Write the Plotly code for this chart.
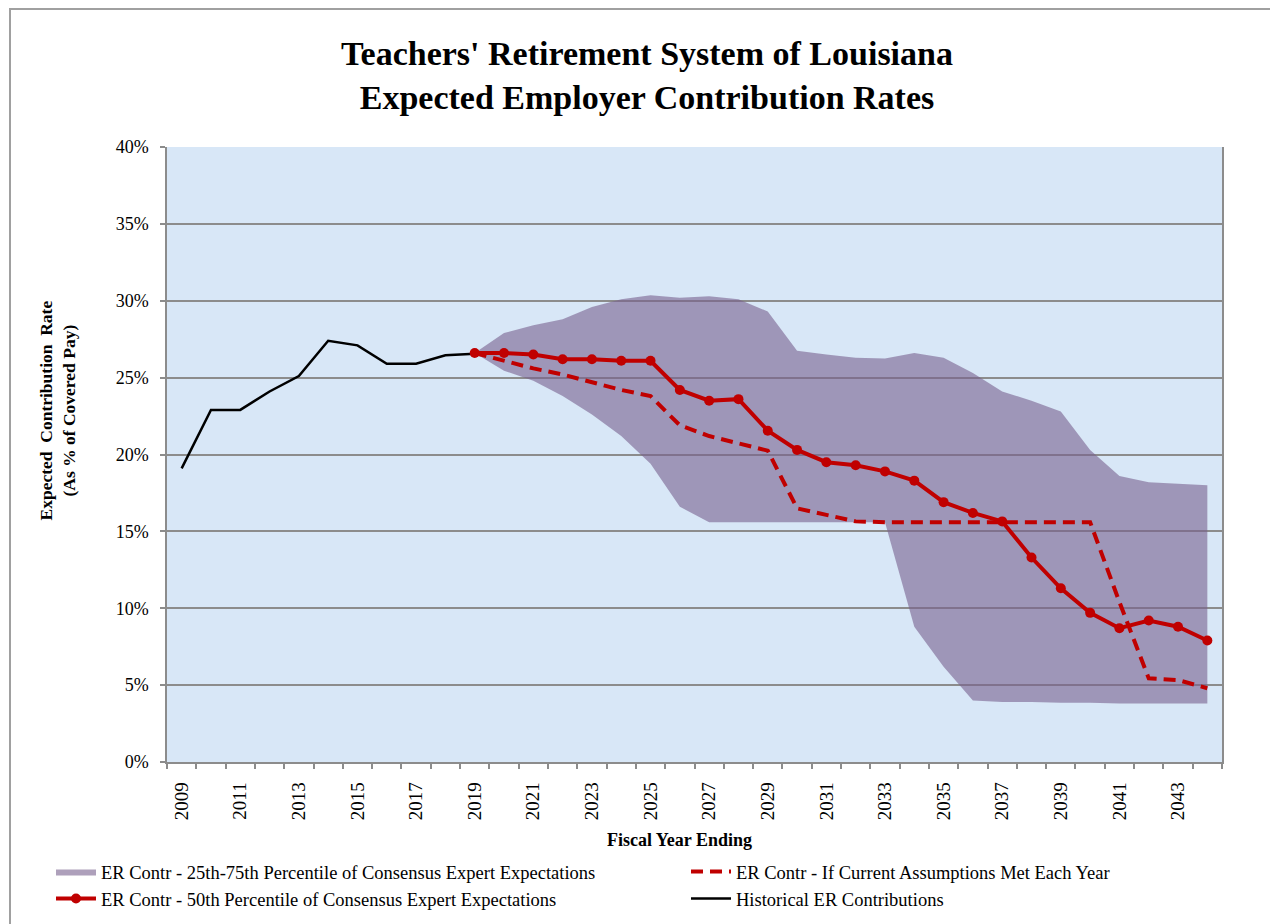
import plotly.graph_objects as go

years = list(range(2009, 2045))

hist_years = list(range(2009, 2020))
historical = [19.1, 22.9, 22.9, 24.1, 25.1, 27.4, 27.1, 25.9, 25.9, 26.45, 26.56]

proj_years = list(range(2019, 2045))
median = [26.6, 26.6, 26.5, 26.2, 26.2, 26.1, 26.1, 24.2, 23.5, 23.6, 21.55, 20.3,
          19.5, 19.3, 18.9, 18.3, 16.9, 16.2, 15.65, 13.3, 11.3, 9.7, 8.7, 9.2, 8.8, 7.9]
current_assump = [26.6, 26.1, 25.6, 25.2, 24.7, 24.2, 23.8, 21.9, 21.2, 20.7, 20.25, 16.5,
                  16.06, 15.65, 15.6, 15.6, 15.6, 15.6, 15.6, 15.6, 15.6, 15.6, 10.4, 5.44, 5.33, 4.8]
upper_75 = [26.6, 27.9, 28.4, 28.8, 29.6, 30.1, 30.35, 30.2, 30.3, 30.1, 29.3, 26.75,
            26.5, 26.3, 26.25, 26.6, 26.3, 25.3, 24.1, 23.5, 22.8, 20.3, 18.6, 18.2, 18.1, 18.0]
lower_25 = [26.6, 25.45, 24.8, 23.8, 22.6, 21.2, 19.4, 16.6, 15.6, 15.6, 15.6, 15.6,
            15.6, 15.6, 15.6, 8.8, 6.2, 4.0, 3.9, 3.9, 3.85, 3.85, 3.8, 3.8, 3.8, 3.8]

y_ticks = [0, 5, 10, 15, 20, 25, 30, 35, 40]
y_tick_labels = [f"{v}%" for v in y_ticks]
x_tick_years = list(range(2009, 2045, 2))

FONT = "Liberation Serif"
RED = "#c00000"
W, H = 1270, 916  # page body adds an 8px offset

fig = go.Figure()

fig.add_trace(go.Scatter(x=proj_years, y=lower_25, mode="lines", line=dict(width=0),
                         showlegend=False, hoverinfo="skip"))
fig.add_trace(go.Scatter(x=proj_years, y=upper_75, mode="lines", line=dict(width=0),
                         fill="tonexty", fillcolor="rgba(120,96,142,0.6)",
                         name="ER Contr - 25th-75th Percentile of Consensus Expert Expectations",
                         legend="legend", legendrank=1))
fig.add_trace(go.Scatter(x=proj_years, y=current_assump, mode="lines",
                         line=dict(color=RED, width=4, dash="12px,7px"),
                         name="ER Contr - If Current Assumptions Met Each Year",
                         legend="legend2", legendrank=1))
fig.add_trace(go.Scatter(x=hist_years, y=historical, mode="lines",
                         line=dict(color="black", width=2.5),
                         name="Historical ER Contributions", legend="legend2", legendrank=2))
fig.add_trace(go.Scatter(x=proj_years, y=median, mode="lines+markers",
                         line=dict(color=RED, width=4), marker=dict(color=RED, size=10),
                         name="ER Contr - 50th Percentile of Consensus Expert Expectations",
                         legend="legend", legendrank=2))

legend_common = dict(orientation="h", xanchor="left", yanchor="top",
                     xref="container", yref="container", traceorder="normal",
                     entrywidth=520, entrywidthmode="pixels",
                     font=dict(family=FONT, size=18.5), bgcolor="rgba(0,0,0,0)",
                     itemwidth=40, tracegroupgap=0)

fig.update_layout(
    width=W, height=H,
    margin=dict(l=159, r=56, t=139, b=162),
    paper_bgcolor="white",
    plot_bgcolor="#d8e7f7",
    font=dict(family=FONT, size=17, color="black"),
    title=dict(text="<b>Teachers' Retirement System of Louisiana<br>Expected Employer Contribution Rates</b>",
               x=(647 - 8) / W, xanchor="center", y=1 - 57 / H, yanchor="middle", yref="container",
               font=dict(family=FONT, size=34, color="black")),
    xaxis=dict(range=[2008.5, 2044.5], tickmode="array", tickvals=x_tick_years,
               ticktext=[str(y) for y in x_tick_years], tickangle=-90,
               ticks="", showgrid=False, zeroline=False, ticklabelstandoff=11,
               showline=True, linecolor="#8c8c8c", linewidth=1.5,
               tickfont=dict(family=FONT, size=19),
               minor=dict(tickmode="linear", tick0=2008.5, dtick=1, ticks="outside",
                          ticklen=5, tickcolor="#8c8c8c", tickwidth=1.5, showgrid=False)),
    yaxis=dict(range=[0, 40], tickmode="array", tickvals=y_ticks, ticktext=y_tick_labels,
               ticks="outside", ticklen=5, tickcolor="#8c8c8c", tickwidth=1.5,
               ticklabelstandoff=8,
               showgrid=True, gridcolor="#8c8c8c", gridwidth=1.5, zeroline=False,
               showline=True, linecolor="#8c8c8c", linewidth=1.5, mirror=True,
               tickfont=dict(family=FONT, size=18)),
    legend=dict(x=43 / W, y=1 - 845 / H, **legend_common),
    legend2=dict(x=678 / W, y=1 - 845 / H, **legend_common),
    annotations=[
        dict(text="<b>Fiscal Year Ending</b>", xref="paper", yref="paper",
             x=0.486, y=-0.127, xanchor="center", yanchor="middle", showarrow=False,
             font=dict(family=FONT, size=18)),
        dict(text="<b>Expected  Contribution  Rate<br>(As % of Covered Pay)</b>", xref="paper", yref="paper",
             x=-0.104, y=0.572, xanchor="center", yanchor="middle", showarrow=False,
             textangle=-90, font=dict(family=FONT, size=17.5)),
    ],
    shapes=[dict(type="rect", xref="paper", yref="paper",
                 x0=(10 - 167) / 1055, x1=(1300 - 167) / 1055,
                 y0=(762 - 940) / 615, y1=(762 - 9) / 615,
                 line=dict(color="#a0a0a0", width=2), fillcolor="rgba(0,0,0,0)", layer="below")],
)

fig.write_html("out.html")
